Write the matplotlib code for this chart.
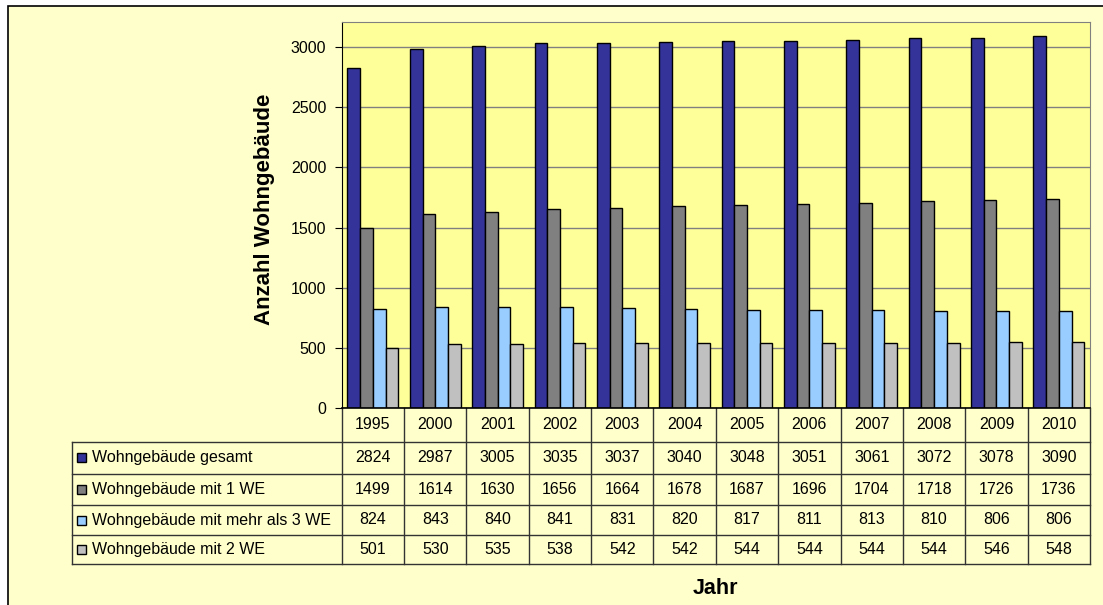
import matplotlib
matplotlib.use("Agg")
import matplotlib.pyplot as plt
import matplotlib.transforms as mtransforms
from matplotlib.patches import Rectangle
import numpy as np

plt.rcParams['font.family'] = ['Liberation Sans', 'DejaVu Sans']

# Jahre und Reihen
jahre = ['1995', '2000', '2001', '2002', '2003', '2004', '2005', '2006',
         '2007', '2008', '2009', '2010']
gesamt = [2824, 2987, 3005, 3035, 3037, 3040, 3048, 3051, 3061, 3072, 3078, 3090]
mit_1_we = [1499, 1614, 1630, 1656, 1664, 1678, 1687, 1696, 1704, 1718, 1726, 1736]
mehr_als_3_we = [824, 843, 840, 841, 831, 820, 817, 811, 813, 810, 806, 806]
mit_2_we = [501, 530, 535, 538, 542, 542, 544, 544, 544, 544, 546, 548]

reihen = [
    ('Wohngebäude gesamt', gesamt, '#333399'),
    ('Wohngebäude mit 1 WE', mit_1_we, '#808080'),
    ('Wohngebäude mit mehr als 3 WE', mehr_als_3_we, '#99CCFF'),
    ('Wohngebäude mit 2 WE', mit_2_we, '#C0C0C0'),
]

W, H = 1103, 605
fig = plt.figure(figsize=(W / 100, H / 100), dpi=100)
fig.patch.set_facecolor('white')

# Rahmen des Diagrammbereichs
fig.add_artist(Rectangle((8 / W, -0.1), 1.2, 1 - 6 / H + 0.1, transform=fig.transFigure,
                         facecolor='#FFFFCC', edgecolor='black', linewidth=1.2, zorder=0))

left, right, top, bottom = 341.7, 1090, 22, 408
ax = fig.add_axes([left / W, 1 - bottom / H, (right - left) / W, (bottom - top) / H])
ax.set_facecolor('#FFFF99')

x = np.arange(len(jahre))
bw = 0.204
for i, (name, werte, farbe) in enumerate(reihen):
    ax.bar(x + (i - 1.5) * bw, werte, width=bw, color=farbe, edgecolor='black',
           linewidth=1.0, zorder=3)

ax.set_xlim(-0.5, len(jahre) - 0.5)
ax.set_ylim(0, 3208)
ax.set_yticks(range(0, 3001, 500))
ax.tick_params(axis='y', labelsize=11.5, length=5, direction='out', pad=6)
ax.set_xticks([])
ax.yaxis.grid(True, color='#808080', linewidth=1.0, zorder=0)
for s in ['top', 'right']:
    ax.spines[s].set_color('#808080')
ax.spines['left'].set_color('black')
ax.spines['bottom'].set_visible(False)

ax.set_ylabel('Anzahl Wohngebäude', fontsize=16, fontweight='bold')
ax.yaxis.set_label_coords(-0.089, 0.515)

# Datentabelle unter der Achse
trans = mtransforms.blended_transform_factory(ax.transData, fig.transFigure)
fy = lambda p: 1 - p / H
fx = lambda p: p / W
zeilen = [408, 441.7, 473.7, 504.7, 535.3, 563.7]
lc = '#333333'
lw = 1.0

for y in zeilen[1:]:
    fig.add_artist(plt.Line2D([fx(71.7), fx(right)], [fy(y), fy(y)], color=lc, lw=lw))
fig.add_artist(plt.Line2D([fx(left), fx(right)], [fy(408), fy(408)], color='black', lw=1.2))
fig.add_artist(plt.Line2D([fx(71.7), fx(71.7)], [fy(441.7), fy(563.7)], color=lc, lw=lw))
for k in range(len(jahre) + 1):
    ax.plot([k - 0.5, k - 0.5], [fy(408), fy(563.7)], transform=trans, color=lc,
            lw=lw, clip_on=False)

for k, j in enumerate(jahre):
    ax.text(k, fy((zeilen[0] + zeilen[1]) / 2), j, transform=trans, ha='center',
            va='center', fontsize=11.5)
    for r, (name, werte, farbe) in enumerate(reihen):
        ax.text(k, fy((zeilen[r + 1] + zeilen[r + 2]) / 2), str(werte[k]), transform=trans,
                ha='center', va='center', fontsize=11.5)

for r, (name, werte, farbe) in enumerate(reihen):
    yc = (zeilen[r + 1] + zeilen[r + 2]) / 2
    fig.add_artist(Rectangle((fx(76.5), fy(yc + 4.5)), 9 / W, 9 / H, transform=fig.transFigure,
                             facecolor=farbe, edgecolor='black', linewidth=1.0))
    fig.text(fx(92), fy(yc), name, ha='left', va='center', fontsize=11.5)

fig.text(fx(715), fy(588), 'Jahr', ha='center', va='center', fontsize=15.5, fontweight='bold')

fig.savefig('out.png', dpi=100, facecolor=fig.get_facecolor())
